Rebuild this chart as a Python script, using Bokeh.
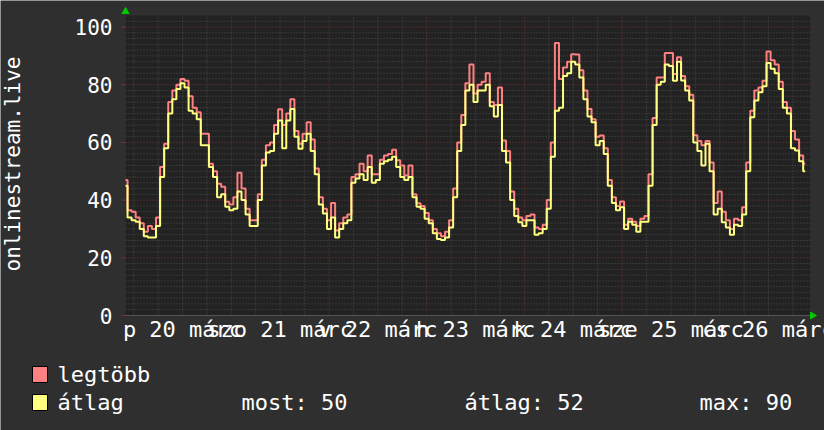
import math
from bokeh.plotting import figure
from bokeh.models import Range1d
from bokeh.core.properties import value
from bokeh.embed import file_html
from bokeh.resources import INLINE

# ---------------- data (hourly samples, hour 0 = 19 March 22:00) ----------------
hours = list(range(168))

avg = [45, 34, 33, 32.5, 30, 27.5, 27, 27, 31, 48,
       58, 70, 75, 78.5, 80.5, 79, 71, 70, 68, 59,
       59, 51.5, 48, 41, 42, 37.7, 36.5, 37, 43, 40,
       35, 31, 31, 40, 52, 56.5, 57, 63, 67.6, 58,
       67.6, 71.6, 62, 57.8, 60.5, 63, 57, 49, 38.5, 35.4,
       30, 34, 27, 30, 32, 33, 46, 47.5, 49, 47,
       51.5, 46, 47, 52.6, 53.5, 54, 55, 51.5, 48, 47,
       48, 41, 37.7, 37, 33.5, 32, 28.5, 26.5, 26.2, 27,
       30.5, 41, 57, 66, 78, 80, 74, 78, 78, 80,
       72.5, 69, 73, 57, 53, 40, 34.5, 32.3, 31, 33,
       33, 28, 28.5, 30, 37, 55, 71, 72, 83, 84,
       88, 87, 82.5, 75, 69, 67, 59, 60.5, 56, 45,
       39, 36.5, 37.5, 30, 32.5, 31.5, 29, 32.5, 32.5, 45,
       66, 80, 81, 87, 86.5, 81.4, 88, 81.5, 78, 74.5,
       60, 57, 52, 59.5, 50, 35, 37, 32.3, 30.5, 28,
       31.5, 31, 35, 50, 68.7, 74.5, 77.4, 79.5, 87.5, 85.5,
       84, 78.5, 72, 70, 58, 57.2, 53.5, 50]

mx = [47, 36.5, 36, 34, 32, 29, 31, 30, 34, 51.5,
      59.5, 74, 78, 80, 82, 81.4, 76, 72, 70.5, 63,
      63, 52.6, 50, 45.7, 44.6, 39.4, 38.5, 41, 49.5, 44,
      37, 33, 33, 42, 54, 59, 60, 66, 71.5, 66,
      70, 75, 64, 59.5, 63, 67, 61, 51, 41, 37,
      33, 39, 29.5, 32, 34, 35, 48, 49, 52.6, 50,
      55.5, 49, 49, 54, 55.5, 56, 57.5, 53.8, 52, 48.5,
      52, 42, 38.9, 38, 35.5, 33, 30, 28.5, 27.5, 29,
      33, 44, 60, 69.5, 80.5, 87, 77, 80, 81, 84,
      74, 73, 79, 60.7, 57, 43, 37, 34, 33, 34.5,
      35, 30.5, 30, 31.5, 40, 60, 94.5, 82, 86, 88,
      90.6, 90.5, 85, 78, 71.6, 68, 62, 62.4, 58, 47,
      41, 38, 39.5, 31.5, 33.5, 32.5, 31, 33.5, 34.5, 49,
      68.5, 82.5, 82.5, 91, 91, 83.7, 89.5, 83, 79.5, 76.5,
      62.5, 60.5, 59, 60.5, 53, 39, 43, 36, 33, 30,
      33.5, 33, 37.5, 53, 71, 78, 79, 81.4, 91.5, 88.5,
      87, 81, 74, 72, 64, 61, 55.5, 52.6]

day_label_hours = [14, 38, 62, 86, 110, 134, 158]          # noon of each day
day_labels = ["p 20 márc", "szo 21 márc", "v 22 márc", "h 23 márc",
              "k 24 márc", "sze 25 márc", "cs 26 márc"]
midnight_hours = [2, 26, 50, 74, 98, 122, 146]
y_ticks = [0, 20, 40, 60, 80, 100]
y_title = "onlinestream.live"

series_names = ["legtöbb", "átlag"]
stat_texts = ["most: 50", "átlag: 52", "max: 90"]

# ---------------- layout / style ----------------
W, H = 824, 430
FL, FR, FT, FB = 125, 810, 15, 315          # plot-area edges in pixels
X0, X1 = 0, 168.3
Y0, Y1 = 0, 104

BG = "#2f2f2f"
PLOT_BG = "#222222"
RED = "#ff8080"
YEL = "#ffff80"
GRID_MAJOR = "#7a3636"
GRID_MINOR = "#4e4e4e"
GREEN = "#00c800"
MONO = value("DejaVu Sans Mono")


def xd(px):
    return X0 + (px - FL) * (X1 - X0) / (FR - FL)


def yd(py):
    return Y0 + (FB - py) * (Y1 - Y0) / (FB - FT)


p = figure(width=W, height=H, output_backend="svg", toolbar_location=None,
           x_range=Range1d(xd(0), xd(W)), y_range=Range1d(yd(H), yd(0)),
           min_border=0, background_fill_color=BG, border_fill_color=BG,
           outline_line_color=None)
p.axis.visible = False
p.grid.visible = False

# plot area
p.quad(left=[X0], right=[X1], bottom=[Y0], top=[Y1], fill_color=PLOT_BG, line_color=None)

# grid
minor_x = [h for h in range(2, 169, 6) if (h - 2) % 24 != 0]
minor_y = [v for v in range(2, 104, 2) if v % 20 != 0]
p.segment(x0=minor_x, x1=minor_x, y0=[Y0] * len(minor_x), y1=[Y1] * len(minor_x),
          line_color=GRID_MINOR, line_dash="1 2", line_width=1)
p.segment(x0=[X0] * len(minor_y), x1=[X1] * len(minor_y), y0=minor_y, y1=minor_y,
          line_color=GRID_MINOR, line_dash="1 2", line_width=1)
p.segment(x0=midnight_hours, x1=midnight_hours, y0=[Y0] * len(midnight_hours),
          y1=[Y1] * len(midnight_hours), line_color=GRID_MAJOR, line_dash="1 2", line_width=1)
p.segment(x0=[X0] * len(y_ticks), x1=[X1] * len(y_ticks), y0=y_ticks, y1=y_ticks,
          line_color=GRID_MAJOR, line_dash="1 2", line_width=1)

# axis line and y ticks
p.segment(x0=[X0], x1=[X1], y0=[Y0], y1=[Y0], line_color="#555555", line_width=1)
p.segment(x0=[xd(121)] * len(y_ticks), x1=[X0] * len(y_ticks), y0=y_ticks, y1=y_ticks,
          line_color=GRID_MAJOR, line_width=1)

# series
p.step(hours, mx, mode="center", line_color=RED, line_width=2)
p.step(hours, avg, mode="center", line_color=YEL, line_width=2)

# green axis arrows
p.scatter(x=[xd(812)], y=[Y0], marker="triangle", size=7, angle=-math.pi / 2,
          fill_color=GREEN, line_color=GREEN)
p.scatter(x=[X0], y=[yd(11)], marker="triangle", size=7,
          fill_color=GREEN, line_color=GREEN)

# tick labels
p.text(x=[xd(112)] * len(y_ticks), y=y_ticks, text=[str(v) for v in y_ticks],
       text_align="right", text_baseline="middle", text_font=MONO,
       text_font_size=value("21px"), text_color="#ffffff")
p.text(x=day_label_hours, y=[yd(316)] * len(day_label_hours), text=day_labels,
       text_align="center", text_baseline="top", text_font=MONO,
       text_font_size=value("22px"), text_color="#ffffff")
p.text(x=[xd(12)], y=[yd(163.5)], text=[y_title], angle=math.pi / 2,
       text_align="center", text_baseline="alphabetic", text_font=MONO,
       text_font_size=value("21px"), text_color="#ffffff")

# legend
p.quad(left=[xd(32)] * 2, right=[xd(47)] * 2, top=[yd(366), yd(394)],
       bottom=[yd(382), yd(410)], fill_color=[RED, YEL], line_color="black", line_width=1)
p.text(x=[xd(57)] * 2, y=[yd(374), yd(402)], text=series_names,
       text_align="left", text_baseline="middle", text_font=MONO,
       text_font_size=value("22px"), text_color="#ffffff")
p.text(x=[xd(241), xd(464), xd(699)], y=[yd(402)] * 3, text=stat_texts,
       text_align="left", text_baseline="middle", text_font=MONO,
       text_font_size=value("22px"), text_color="#ffffff")

open("out.html", "w").write(file_html(p, INLINE))
